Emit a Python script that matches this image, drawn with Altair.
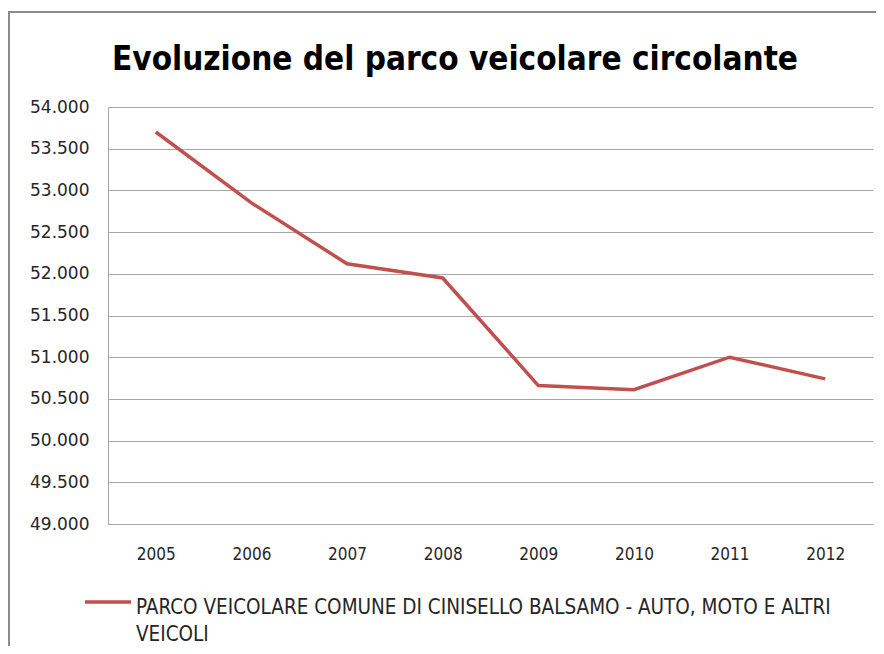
import altair as alt
import pandas as pd

years = ["2005", "2006", "2007", "2008", "2009", "2010", "2011", "2012"]
values = [53700, 52850, 52120, 51950, 50660, 50610, 51000, 50740]
series_name = "PARCO VEICOLARE COMUNE DI CINISELLO BALSAMO - AUTO, MOTO E ALTRI VEICOLI"
title_text = "Evoluzione del parco veicolare circolante"
y_ticks = [49000 + 500 * i for i in range(11)]

NARROW = "DejaVu Sans Condensed, Roboto Condensed, Roboto"

df = pd.DataFrame({"anno": years, "valore": values, "serie": [series_name] * len(years)})

line1, line2 = series_name.rsplit(" ", 1)
df_leg = pd.DataFrame({"serie": [series_name], "etichetta": [line1 + "\n" + line2]})
df_title = pd.DataFrame({"titolo": [title_text]})

color = alt.Color("serie:N", scale=alt.Scale(range=["#c0504d"]), legend=None)

border = alt.Chart(pd.DataFrame({"a": [0]})).mark_rect(
    fill=None, stroke="#8c8c8c", strokeWidth=2, clip=False
).encode(
    x=alt.value(-99), x2=alt.value(900), y=alt.value(-95), y2=alt.value(700)
)

title = alt.Chart(df_title).mark_text(
    align="center", baseline="alphabetic", font=NARROW, fontSize=33,
    fontWeight="bold", color="#000000"
).encode(x=alt.value(347), y=alt.value(-37), text="titolo:N")

line = alt.Chart(df).mark_line(strokeWidth=3.5, clip=False).encode(
    x=alt.X("anno:O", sort=years, scale=alt.Scale(type="point", padding=0.5),
            axis=alt.Axis(title=None, labelAngle=0, ticks=False, grid=False,
                          domainColor="#a6a6a6", labelPadding=22,
                          labelFont=NARROW, labelFontSize=17,
                          labelColor="#262626")),
    y=alt.Y("valore:Q", scale=alt.Scale(domain=[49000, 54000], nice=False, zero=False),
            axis=alt.Axis(title=None, values=y_ticks, ticks=False, grid=True,
                          gridColor="#a6a6a6", domainColor="#a6a6a6",
                          labelExpr="replace(format(datum.value, ','), ',', '.')",
                          labelPadding=19, labelFont="DejaVu Sans", labelFontSize=17,
                          labelColor="#262626")),
    color=color,
)

leg_symbol = alt.Chart(df_leg).mark_rule(strokeWidth=3.5).encode(
    x=alt.value(-23), x2=alt.value(23), y=alt.value(495), color=color
)
leg_text = alt.Chart(df_leg).mark_text(
    align="left", baseline="middle", lineBreak="\n", lineHeight=27,
    font=NARROW, fontSize=20.5, color="#262626"
).encode(
    x=alt.value(28), y=alt.value(501), text="etichetta:N"
)

chart = alt.layer(border, title, line, leg_symbol, leg_text).properties(
    width=765, height=417,
    padding={"left": 100, "top": 99, "right": 3, "bottom": 122},
    autosize=alt.AutoSizeParams(type="none"),
).configure_view(stroke=None)

chart.save("out.html", embed_options={"renderer": "svg", "actions": False})
